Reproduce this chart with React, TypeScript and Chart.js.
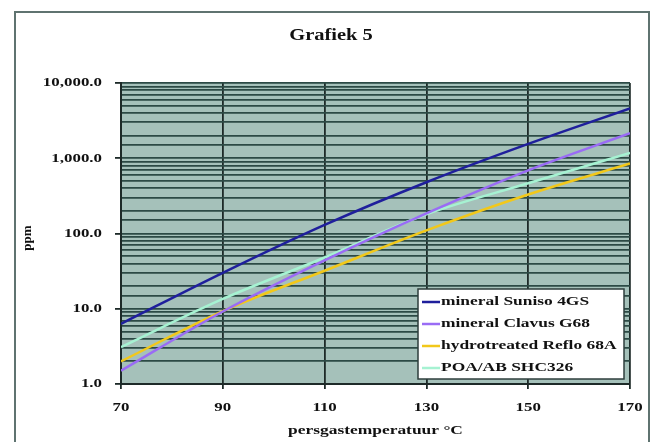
import React, { useEffect, useRef } from "react";
import { Chart, registerables } from "chart.js";

Chart.register(...registerables);

const temperatures = [70, 90, 110, 130, 150, 170];
const sunisoValues = [6.3, 30, 130, 480, 1550, 4600];
const clavusValues = [1.5, 9.2, 44, 185, 690, 2150];
const refloValues = [2.0, 9.3, 32, 110, 330, 850];
const shcValues = [3.1, 13.5, 48, 180, 465, 1180];
const seriesLabels = [
  "mineral Suniso 4GS",
  "mineral Clavus G68",
  "hydrotreated Reflo 68A",
  "POA/AB SHC326",
];
const seriesColors = ["#1f1f9c", "#9a6cf5", "#f2c81a", "#a6f2d2"];
const xTicks = ["70", "90", "110", "130", "150", "170"];
const yTicks = ["1.0", "10.0", "100.0", "1,000.0", "10,000.0"];
const titleText = "Grafiek 5";
const xTitle = "persgastemperatuur \u00b0C";
const yTitle = "ppm";

const FONT = "'Liberation Serif', 'Times New Roman', serif";

function stretchText(ctx: CanvasRenderingContext2D, text: string, x: number, y: number, sx: number, align: "left" | "right" | "center") {
  ctx.save();
  ctx.translate(x, y);
  ctx.scale(sx, 1);
  ctx.textAlign = align;
  ctx.fillText(text, 0, 0);
  ctx.restore();
}

function isDecade(v: number) {
  const l = Math.log10(v);
  return Math.abs(l - Math.round(l)) < 1e-9;
}

const decorPlugin = {
  id: "decor",
  beforeDraw(chart: any) {
    const { ctx, chartArea } = chart;
    ctx.save();
    ctx.fillStyle = "#ffffff";
    ctx.fillRect(0, 0, chart.width, chart.height);
    ctx.strokeStyle = "#5f7370";
    ctx.lineWidth = 2;
    ctx.beginPath();
    ctx.moveTo(15, 460);
    ctx.lineTo(15, 12);
    ctx.lineTo(649, 12);
    ctx.lineTo(649, 460);
    ctx.stroke();
    ctx.fillStyle = "#a5c1ba";
    ctx.fillRect(chartArea.left, chartArea.top, chartArea.right - chartArea.left, chartArea.bottom - chartArea.top);
    ctx.restore();
  },
  afterDraw(chart: any) {
    const { ctx, chartArea } = chart;
    const xs = chart.scales.x;
    const ys = chart.scales.y;
    ctx.save();
    ctx.fillStyle = "#111111";
    ctx.textBaseline = "middle";
    ctx.font = `bold 16px ${FONT}`;
    stretchText(ctx, titleText, 331, 36, 1.28, "center");
    ctx.font = `bold 13px ${FONT}`;
    yTicks.forEach((t, i) => {
      const v = Math.pow(10, i);
      stretchText(ctx, t, 102, ys.getPixelForValue(v), 1.3, "right");
    });
    xTicks.forEach((t) => {
      stretchText(ctx, t, xs.getPixelForValue(Number(t)), 408, 1.3, "center");
    });
    ctx.font = `bold 13px ${FONT}`;
    stretchText(ctx, xTitle, (chartArea.left + chartArea.right) / 2, 431, 1.34, "center");
    ctx.save();
    ctx.translate(28, 238);
    ctx.rotate(-Math.PI / 2);
    ctx.font = `bold 13px ${FONT}`;
    ctx.textAlign = "center";
    ctx.fillText(yTitle, 0, 0);
    ctx.restore();

    const lx = 418, ly = 289, lw = 206, lh = 90;
    ctx.fillStyle = "#ffffff";
    ctx.fillRect(lx, ly, lw, lh);
    ctx.strokeStyle = "#2e3e3c";
    ctx.lineWidth = 1.5;
    ctx.strokeRect(lx, ly, lw, lh);
    const rows = [302, 324, 346, 368];
    ctx.font = `bold 13px ${FONT}`;
    chart.data.datasets.forEach((ds: any, i: number) => {
      const y = rows[i];
      ctx.strokeStyle = ds.borderColor;
      ctx.lineWidth = 2.5;
      ctx.beginPath();
      ctx.moveTo(422, y);
      ctx.lineTo(440, y);
      ctx.stroke();
      ctx.fillStyle = "#111111";
      stretchText(ctx, ds.label, 441, y, 1.34, "left");
    });
    ctx.restore();
  },
};

export default function App() {
  const ref = useRef<HTMLCanvasElement>(null);
  useEffect(() => {
    if (!ref.current) return;
    const valueSets = [sunisoValues, clavusValues, refloValues, shcValues];
    const chart = new Chart(ref.current, {
      type: "line",
      data: {
        datasets: valueSets.map((vals, i) => ({
          label: seriesLabels[i],
          data: temperatures.map((t, j) => ({ x: t, y: vals[j] })),
          borderColor: seriesColors[i],
          backgroundColor: seriesColors[i],
          borderWidth: 2.5,
          pointRadius: 0,
          tension: 0.4,
          cubicInterpolationMode: "monotone",
          fill: false,
        })),
      },
      options: {
        responsive: false,
        animation: false,
        events: [],
        layout: { padding: { top: 83, left: 100, right: 26, bottom: 30 } },
        plugins: {
          legend: { display: false },
          title: { display: false },
          tooltip: { enabled: false },
        },
        scales: {
          x: {
            type: "linear",
            min: 70,
            max: 170,
            afterBuildTicks: (s: any) => {
              s.ticks = xTicks.map((t) => ({ value: Number(t) }));
            },
            ticks: { display: false },
            grid: {
              color: "#1d2a28",
              lineWidth: 1.8,
              tickLength: 5,
              drawTicks: true,
            },
            border: { color: "#1d2a28", width: 2 },
            afterFit: (s: any) => {
              s.height = 28;
            },
          },
          y: {
            type: "logarithmic",
            min: 1,
            max: 10000,
            ticks: { display: false, autoSkip: false },
            grid: {
              color: "#2c4a45",
              lineWidth: 1.8,
              tickLength: 6,
              tickColor: (c: any) => (c.tick && isDecade(c.tick.value) ? "#1d2a28" : "rgba(0,0,0,0)"),
            },
            border: { color: "#1d2a28", width: 2 },
            afterFit: (s: any) => {
              s.width = 21;
            },
          },
        },
      },
      plugins: [decorPlugin],
    } as any);
    return () => chart.destroy();
  }, []);
  return (
    <div style={{ position: "fixed", left: 0, top: 0, width: 656, height: 442 }}>
      <canvas ref={ref} width={656} height={442} style={{ display: "block" }} />
    </div>
  );
}
